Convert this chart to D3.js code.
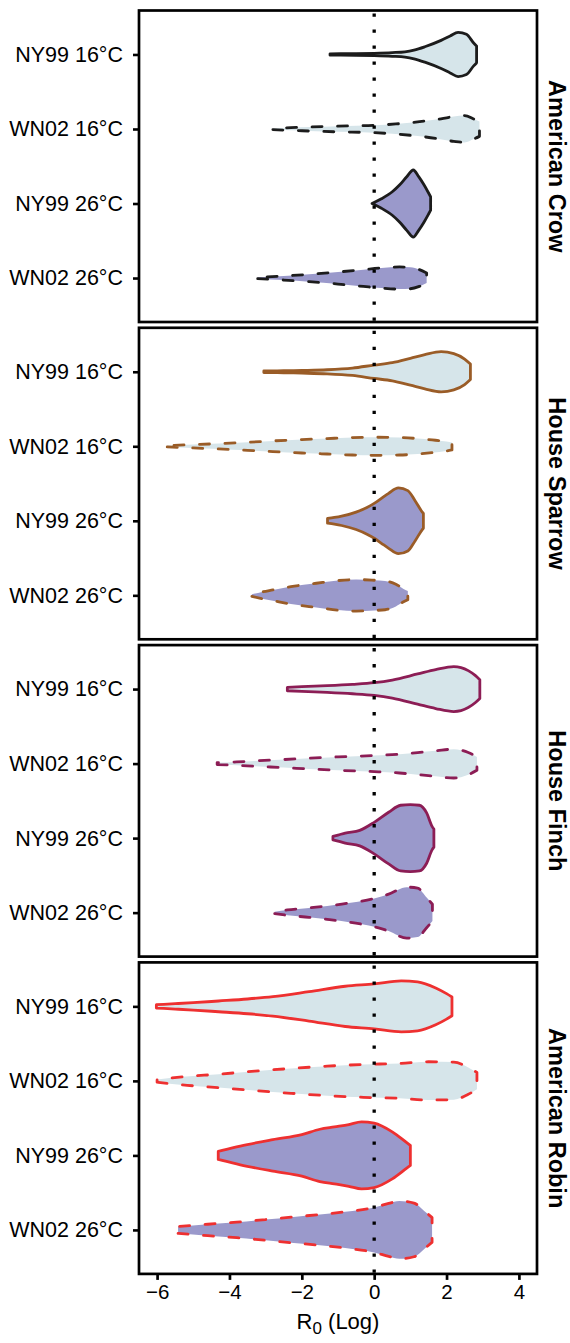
<!DOCTYPE html>
<html><head><meta charset="utf-8">
<script src="https://cdn.jsdelivr.net/npm/d3@7"></script>
<style>body{margin:0;background:#fff}svg text{font-family:"Liberation Sans",Arial,Helvetica,sans-serif;fill:#000}</style>
</head><body><svg id="chart" width="570" height="1343"></svg>
<script>
// ---- data ----
const panels = ["American Crow", "House Sparrow", "House Finch", "American Robin"];
const categories = ["NY99 16°C", "WN02 16°C", "NY99 26°C", "WN02 26°C"];
const xTicks = [-6, -4, -2, 0, 2, 4];
// violin outlines: [log R0, relative density]
const crow_NY99_16 = [[-1.22,0.02],[-0.5,0.025],[0,0.035],[0.5,0.055],[0.85,0.08],[1.1,0.13],[1.4,0.23],[1.85,0.42],[2.1,0.55],[2.32,0.66],[2.55,0.6],[2.75,0.34],[2.83,0.25]];
const crow_WN02_16 = [[-2.8,0.02],[-2.3,0.04],[-1.8,0.06],[-1.0,0.085],[0,0.11],[0.6,0.15],[1.2,0.21],[1.7,0.28],[2.2,0.37],[2.5,0.40],[2.75,0.30],[2.91,0.22]];
const crow_NY99_26 = [[-0.06,0.0],[0.2,0.14],[0.5,0.35],[0.7,0.55],[0.9,0.80],[1.08,1.0],[1.23,0.80],[1.38,0.55],[1.5,0.32],[1.56,0.2]];
const crow_WN02_26 = [[-3.22,0.02],[-2.5,0.06],[-1.8,0.11],[-1.0,0.18],[-0.3,0.25],[0.2,0.30],[0.7,0.33],[1.0,0.32],[1.25,0.25],[1.45,0.15]];
const sparrow_NY99_16 = [[-3.05,0.025],[-2.5,0.03],[-2.0,0.04],[-1.3,0.06],[-0.6,0.11],[0,0.2],[0.5,0.27],[1.0,0.40],[1.4,0.51],[1.85,0.60],[2.2,0.54],[2.5,0.38],[2.66,0.23]];
const sparrow_WN02_16 = [[-5.72,0.02],[-5.0,0.05],[-4.3,0.08],[-3.5,0.12],[-2.8,0.16],[-2.0,0.20],[-1.3,0.23],[-0.6,0.26],[0,0.27],[0.7,0.26],[1.2,0.23],[1.6,0.19],[2.0,0.14],[2.15,0.11]];
const sparrow_NY99_26 = [[-1.29,0.07],[-1.1,0.10],[-0.9,0.14],[-0.5,0.26],[-0.2,0.40],[0,0.52],[0.2,0.67],[0.4,0.82],[0.67,0.98],[0.93,0.90],[1.13,0.60],[1.33,0.26],[1.36,0.22]];
const sparrow_WN02_26 = [[-3.38,0.03],[-3.1,0.10],[-2.8,0.16],[-2.3,0.26],[-1.6,0.36],[-1.0,0.44],[-0.5,0.47],[0,0.45],[0.3,0.43],[0.6,0.33],[0.8,0.20],[0.93,0.13]];
const finch_NY99_16 = [[-2.4,0.05],[-2.0,0.07],[-1.3,0.10],[-0.6,0.14],[0,0.19],[0.5,0.27],[1.2,0.45],[1.7,0.58],[2.2,0.67],[2.6,0.55],[2.8,0.40],[2.92,0.28]];
const finch_WN02_16 = [[-4.34,0.03],[-3.8,0.05],[-3.3,0.08],[-2.5,0.12],[-1.8,0.16],[-1.0,0.20],[0,0.24],[0.7,0.28],[1.2,0.33],[1.7,0.38],[2.2,0.43],[2.6,0.33],[2.84,0.20]];
const finch_NY99_26 = [[-1.14,0.05],[-1.0,0.09],[-0.8,0.15],[-0.4,0.23],[0,0.47],[0.4,0.77],[0.73,0.98],[1.0,1.0],[1.25,0.98],[1.45,0.75],[1.6,0.35],[1.65,0.27]];
const finch_WN02_26 = [[-2.75,0.03],[-2.4,0.08],[-1.8,0.14],[-1.3,0.20],[-0.6,0.30],[0,0.42],[0.4,0.55],[0.9,0.76],[1.2,0.73],[1.45,0.45],[1.61,0.25]];
const robin_NY99_16 = [[-6.02,0.05],[-5.5,0.08],[-5.0,0.11],[-4.3,0.16],[-3.5,0.22],[-2.8,0.29],[-1.8,0.44],[-0.8,0.60],[0,0.67],[0.75,0.76],[1.2,0.73],[1.7,0.55],[2.0,0.38],[2.15,0.28]];
const robin_WN02_16 = [[-6.0,0.04],[-5.3,0.12],[-4.3,0.20],[-3.3,0.29],[-2.3,0.37],[-1.3,0.44],[-0.3,0.49],[0.7,0.52],[1.5,0.57],[2.2,0.56],[2.6,0.40],[2.84,0.25]];
const robin_NY99_26 = [[-4.31,0.12],[-4.2,0.15],[-3.7,0.28],[-2.8,0.47],[-2.0,0.62],[-1.5,0.78],[-1.1,0.85],[-0.7,0.92],[-0.35,1.0],[0,0.96],[0.5,0.70],[0.9,0.38],[1.0,0.30]];
const robin_WN02_26 = [[-5.42,0.10],[-4.6,0.17],[-3.8,0.23],[-3.0,0.31],[-2.3,0.38],[-1.5,0.46],[-0.8,0.54],[0,0.67],[0.4,0.79],[0.7,0.86],[1.1,0.80],[1.4,0.55],[1.6,0.37]];

const violins = [
  [crow_NY99_16, crow_WN02_16, crow_NY99_26, crow_WN02_26],
  [sparrow_NY99_16, sparrow_WN02_16, sparrow_NY99_26, sparrow_WN02_26],
  [finch_NY99_16, finch_WN02_16, finch_NY99_26, finch_WN02_26],
  [robin_NY99_16, robin_WN02_16, robin_NY99_26, robin_WN02_26]
];

// ---- styles ----
const panelStroke = ["#1c1c1c", "#9a5c27", "#8c1d55", "#ee3030"];
const catFill = ["#d6e5ea", "#d6e5ea", "#9a99cb", "#9a99cb"];
const catDashed = [false, true, false, true];

// ---- layout ----
const left = 139, right = 537, top0 = 10.5, panelH = 311.5, gap = 5.8;
const svg = d3.select("#chart");
const x = d3.scaleLinear().domain([-6.5, 4.5]).range([left, right]);
const y = d3.scalePoint().domain(categories).range([0, panelH]).padding(0.59);
const w = d3.scaleLinear().domain([0, 1]).range([0, y.step() * 0.45]);

panels.forEach((name, pi) => {
  const top = top0 + pi * (panelH + gap);
  const g = svg.append("g").attr("transform", `translate(0,${top})`);

  categories.forEach((cat, ci) => {
    const cy = y(cat);
    const area = d3.area()
      .x(d => x(d[0]))
      .y0(d => cy - w(d[1]))
      .y1(d => cy + w(d[1]))
      .curve(d3.curveMonotoneX);
    g.append("path")
      .attr("d", area(violins[pi][ci]))
      .attr("fill", catFill[ci])
      .attr("stroke", panelStroke[pi])
      .attr("stroke-width", 2.8)
      .attr("stroke-linejoin", "round")
      .attr("stroke-linecap", "round")
      .attr("stroke-dasharray", catDashed[ci] ? "10,15.5" : null);
  });

  // zero reference line
  g.append("line")
    .attr("x1", x(0)).attr("x2", x(0))
    .attr("y1", 3).attr("y2", panelH)
    .attr("stroke", "#000").attr("stroke-width", 3.3)
    .attr("stroke-dasharray", "3.3,12.7");

  // y axis
  const yAxis = d3.axisLeft(y).tickSize(6).tickPadding(10);
  const ya = g.append("g").attr("transform", `translate(${left},0)`).call(yAxis);
  ya.select(".domain").remove();
  ya.selectAll(".tick line").attr("stroke", "#000").attr("stroke-width", 2.6);
  ya.selectAll(".tick text").attr("font-size", 21.5).attr("fill", "#000")
    .attr("font-family", '"Liberation Sans",Arial,sans-serif');

  // panel border
  g.append("rect")
    .attr("x", left).attr("y", 0)
    .attr("width", right - left).attr("height", panelH)
    .attr("fill", "none").attr("stroke", "#000").attr("stroke-width", 2.7);

  // strip label
  g.append("text")
    .attr("transform", `translate(557,${panelH / 2}) rotate(90)`)
    .attr("text-anchor", "middle").attr("dy", "0.35em")
    .attr("font-size", 23.5).attr("font-weight", "bold")
    .text(name);

  if (pi === panels.length - 1) {
    const xAxis = d3.axisBottom(x).tickValues(xTicks).tickSize(6).tickPadding(5)
      .tickFormat(d3.format("d"));
    const xa = g.append("g").attr("transform", `translate(0,${panelH})`).call(xAxis);
    xa.select(".domain").remove();
    xa.selectAll(".tick line").attr("stroke", "#000").attr("stroke-width", 2.7);
    xa.selectAll(".tick text").attr("font-size", 20.5).attr("fill", "#000")
      .attr("font-family", '"Liberation Sans",Arial,sans-serif');
    const t = g.append("text")
      .attr("x", (left + right) / 2).attr("y", panelH + 55)
      .attr("text-anchor", "middle").attr("font-size", 22);
    t.append("tspan").text("R");
    t.append("tspan").attr("font-size", 17).attr("dy", 5).text("0");
    t.append("tspan").attr("dy", -5).text(" (Log)");
  }
});
</script></body></html>
